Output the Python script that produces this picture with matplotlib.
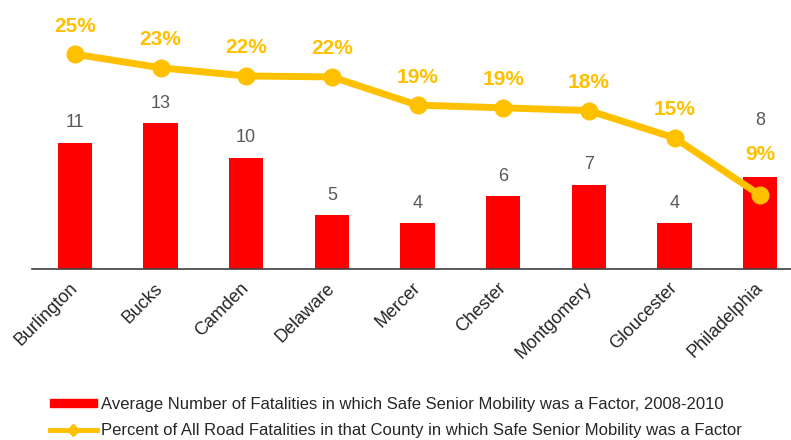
import matplotlib
matplotlib.use("Agg")
import matplotlib.pyplot as plt
from matplotlib.lines import Line2D
from matplotlib.patches import Patch

plt.rcParams['font.family'] = ['Liberation Sans', 'DejaVu Sans']

# data (labels show them rounded)
counties = ["Burlington", "Bucks", "Camden", "Delaware", "Mercer",
            "Chester", "Montgomery", "Gloucester", "Philadelphia"]
fatalities = [11.0, 12.67, 9.67, 4.67, 4.0, 6.33, 7.33, 4.0, 8.0]
percent = [24.6, 23.1, 22.2, 22.1, 19.0, 18.7, 18.4, 15.4, 9.1]

bar_label = "Average Number of Fatalities in which Safe Senior Mobility was a Factor, 2008-2010"
line_label = "Percent of All Road Fatalities in that County in which Safe Senior Mobility was a Factor"

red = "#FF0000"
gold = "#FFC000"
grey = "#595959"

fig = plt.figure(figsize=(7.91, 4.40), dpi=100)
W, H = 791, 440
ax = fig.add_axes([32 / W, (H - 269) / H, 771 / W, 269 / H])
x = list(range(len(counties)))

ax.bar(x, fatalities, width=0.40, color=red, zorder=2)
ax.set_xlim(-0.5, len(counties) - 0.5)
ax.set_ylim(0, 269 / 11.5)

# bar value labels (Philadelphia sits higher because of the 9% label)
for i, v in enumerate(fatalities):
    off = 41 if i == len(fatalities) - 1 else 14.4
    ax.annotate(f"{v:.0f}", (i, v), xytext=(0, off), textcoords="offset points",
                ha="center", va="center", fontsize=13, color=grey)

ax2 = ax.twinx()
ax2.plot(x, percent, color=gold, lw=5, marker="o", ms=12, zorder=3)
ax2.set_ylim(0.99, 0.99 + 269 / 9.1)
ax2.set_xlim(-0.5, len(counties) - 0.5)
for i, p in enumerate(percent):
    off = 29 if i == len(percent) - 1 else 20.2
    ax2.annotate(f"{p:.0f}%", (i, p), xytext=(0, off), textcoords="offset points",
                 ha="center", va="center", fontsize=15, fontweight="bold", color=gold)

for a in (ax, ax2):
    for s in ("top", "right", "left"):
        a.spines[s].set_visible(False)
    a.set_yticks([])
ax2.spines["bottom"].set_visible(False)
ax.spines["bottom"].set_color("#404040")
ax.spines["bottom"].set_linewidth(1.2)

ax.set_xticks(x)
ax.set_xticklabels(counties, rotation=45, ha="right", va="center",
                   rotation_mode="anchor", fontsize=13, color="#262626")
ax.tick_params(axis="x", length=0, pad=12)

handles = [Patch(color=red, label=bar_label),
           Line2D([0], [0], color=gold, lw=3.5, marker="D", ms=6, label=line_label)]
fig.legend(handles=handles, loc="upper left", bbox_to_anchor=(50 / W, 1 - 397 / H),
           frameon=False, fontsize=12, handlelength=2.8, handleheight=0.3,
           handletextpad=0.25, labelspacing=0.65, borderpad=0, borderaxespad=0,
           labelcolor="#262626")

fig.savefig("out.png", dpi=100)
